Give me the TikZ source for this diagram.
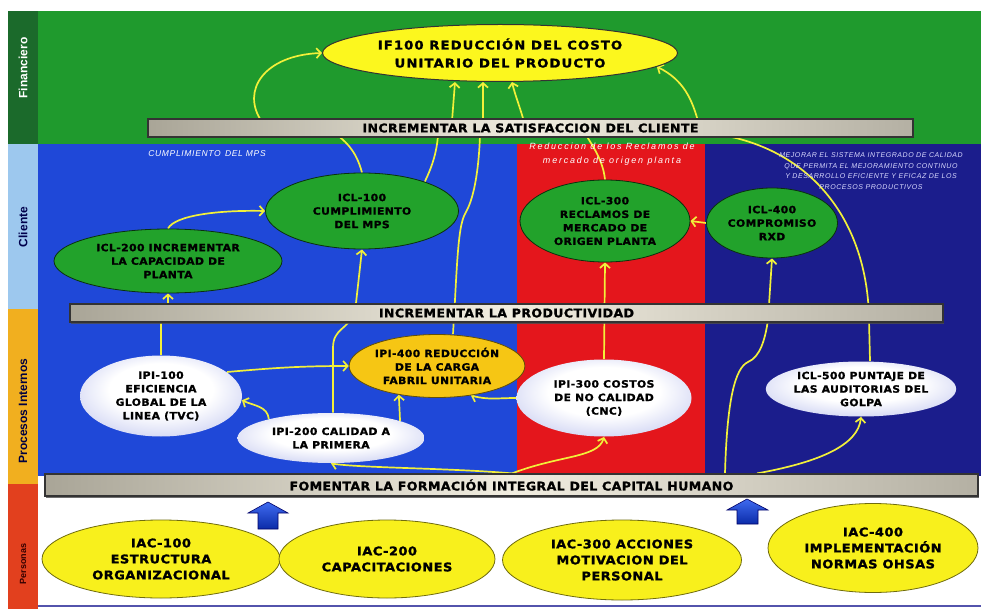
\documentclass[tikz,border=0pt]{standalone}
\usepackage{fontspec}
\setmainfont{DejaVu Sans}
\newfontfamily\bandfont{DejaVu Sans}[LetterSpace=3,FakeStretch=1.05,FakeBold=1.2]
\newfontfamily\bubblefont{DejaVu Sans}[LetterSpace=4,FakeStretch=1.08,FakeBold=1.4]
\newfontfamily\headfont{DejaVu Sans}[LetterSpace=9,FakeStretch=1.1,FakeBold=1.4]
\newfontfamily\sidefont{Liberation Sans}
\newfontfamily\notefont{Liberation Sans}[LetterSpace=20]
\newfontfamily\memofont{Liberation Sans}[LetterSpace=8]
\usetikzlibrary{shapes.geometric,arrows.meta,shadows}
\pgfdeclarelayer{bg}
\pgfdeclarelayer{links}
\pgfsetlayers{bg,links,main}

\definecolor{finG}{HTML}{1F9A2D}
\definecolor{finDark}{HTML}{1B6A2B}
\definecolor{cliBlue}{HTML}{1F48D8}
\definecolor{cliRed}{HTML}{E4161C}
\definecolor{cliNavy}{HTML}{1B1D8C}
\definecolor{labBlue}{HTML}{9DC8EE}
\definecolor{labOrange}{HTML}{F1AF1F}
\definecolor{labRed}{HTML}{E2401E}
\definecolor{arrowY}{HTML}{F2F03A}
\definecolor{ellGreen}{HTML}{22A22B}
\definecolor{ifYellow}{HTML}{FCF71E}
\definecolor{ellYellow}{HTML}{F8F01C}
\definecolor{ellGold}{HTML}{F6C614}
\definecolor{lav}{HTML}{BCC2EE}
\definecolor{lavdark}{HTML}{9BA3E2}
\definecolor{bandL}{HTML}{A9A597}
\definecolor{bandM}{HTML}{F1EDE0}
\definecolor{bandR}{HTML}{B4B0A3}
\definecolor{upTop}{HTML}{3F6BF0}
\definecolor{upBot}{HTML}{0B2BA8}

\pgfdeclareradialshading{softball}{\pgfpoint{0bp}{6bp}}{color(0bp)=(white); color(16bp)=(white); color(36bp)=(lav); color(50bp)=(lavdark)}

\begin{document}
\begin{tikzpicture}[x=1pt,y=-1pt,
  link/.style={draw=arrowY,line width=1.7pt},
  linkarr/.style={link,-{Straight Barb[length=4.5pt,width=10pt]}},
  bandbox/.style={draw=black!80,line width=1.2pt,left color=bandL,right color=bandR,middle color=bandM,
    inner sep=0pt,font=\bandfont\bfseries\fontsize{12}{12}\selectfont,
    drop shadow={shadow xshift=1.2pt,shadow yshift=-1.5pt,fill=black!70,opacity=.8}},
  bubble/.style={ellipse,inner sep=0pt,align=center,font=\bubblefont\bfseries\fontsize{10}{13.5}\selectfont,line width=.8pt},
  headb/.style={bubble,fill=ifYellow,draw=black!80,line width=1pt,font=\headfont\bfseries\fontsize{12}{18}\selectfont},
  greenb/.style={bubble,fill=ellGreen,draw=black!70!ellGreen},
  paleb/.style={bubble,shade,shading=softball},
  goldb/.style={bubble,fill=ellGold,draw=black!60!ellGold},
  baseb/.style={bubble,fill=ellYellow,draw=black!55!ellYellow,font=\bubblefont\bfseries\fontsize{12}{16}\selectfont},
  sidelabel/.style={rotate=90,font=\sidefont\bfseries\fontsize{12}{12}\selectfont},
  blockup/.style={draw=blue!40!black,line width=.6pt,top color=upTop,bottom color=upBot}
]
\useasboundingbox (0,0) rectangle (981,609);

% ---------- perspective bands ----------
\begin{pgfonlayer}{bg}
  \fill[white] (0,0) rectangle (981,609);
  \fill[finDark]   (8,11)   rectangle (38,144);
  \fill[labBlue]   (8,144)  rectangle (38,309);
  \fill[labOrange] (8,309)  rectangle (38,484);
  \fill[labRed]    (8,484)  rectangle (38,609);
  \fill[finG]    (38,11)  rectangle (981,144);
  \fill[cliBlue] (38,144) rectangle (517,476);
  \fill[cliRed]  (517,144) rectangle (705,476);
  \fill[cliNavy] (705,144) rectangle (981,476);
  \draw[blue!35!gray,line width=2pt] (38,606) -- (981,606);
\end{pgfonlayer}

\node[sidelabel,white] (lfin) at (23,68) {Financiero};
\node[sidelabel,text=black!70!blue] (lcli) at (23,227) {Cliente};
\node[sidelabel,text=black!75!blue] (lpro) at (23,411) {Procesos Internos};
\node[sidelabel,text=black!80!red,font=\sidefont\bfseries\fontsize{9}{9}\selectfont] (lper) at (23,564) {Personas};

% ---------- strategic themes ----------
\node[bandbox,minimum width=765pt,minimum height=18pt] (satisf) at (530.5,128) {INCREMENTAR LA SATISFACCION DEL CLIENTE};
\node[bandbox,minimum width=873pt,minimum height=18pt] (product) at (506.5,313) {INCREMENTAR LA PRODUCTIVIDAD};
\node[bandbox,minimum width=933pt,minimum height=22pt] (formac) at (511.5,485) {FOMENTAR LA FORMACIÓN INTEGRAL DEL CAPITAL HUMANO};

% ---------- objectives ----------
\node[headb,minimum width=355pt,minimum height=57pt] (if100) at (500,53) {IF100 REDUCCIÓN DEL COSTO\\UNITARIO DEL PRODUCTO};

\node[greenb,minimum width=193pt,minimum height=76pt] (icl100) at (362,211) {ICL-100\\CUMPLIMIENTO\\DEL MPS};
\node[greenb,minimum width=228pt,minimum height=64pt] (icl200) at (168,261) {ICL-200 INCREMENTAR\\LA CAPACIDAD DE\\PLANTA};
\node[greenb,minimum width=170pt,minimum height=82pt] (icl300) at (605,221) {ICL-300\\RECLAMOS DE\\MERCADO DE\\ORIGEN PLANTA};
\node[greenb,minimum width=131pt,minimum height=70pt] (icl400) at (772,223) {ICL-400\\COMPROMISO\\RXD};

\node[paleb,minimum width=162pt,minimum height=81pt] (ipi100) at (161,396) {IPI-100\\EFICIENCIA\\GLOBAL DE LA\\LINEA (TVC)};
\node[paleb,minimum width=187pt,minimum height=50pt] (ipi200) at (331,438) {IPI-200 CALIDAD A\\LA PRIMERA};
\node[goldb,minimum width=171pt,minimum height=63pt] (ipi400) at (437,366) {IPI-400 REDUCCIÓN\\DE LA CARGA\\FABRIL UNITARIA};
\node[paleb,minimum width=175pt,minimum height=77pt] (ipi300) at (604,398) {IPI-300 COSTOS\\DE NO CALIDAD\\(CNC)};
\node[paleb,minimum width=186pt,minimum height=55pt] (icl500) at (861,389) {ICL-500 PUNTAJE DE\\LAS AUDITORIAS DEL\\GOLPA};

\node[baseb,minimum width=238pt,minimum height=78pt] (iac100) at (161,559) {IAC-100\\ESTRUCTURA\\ORGANIZACIONAL};
\node[baseb,minimum width=216pt,minimum height=78pt] (iac200) at (387,559) {IAC-200\\CAPACITACIONES};
\node[baseb,minimum width=239pt,minimum height=80pt] (iac300) at (622,560) {IAC-300 ACCIONES\\MOTIVACION DEL\\PERSONAL};
\node[baseb,minimum width=210pt,minimum height=89pt] (iac400) at (873,548) {IAC-400\\IMPLEMENTACIÓN\\NORMAS OHSAS};

% ---------- notes on the perspectives ----------
\node[white,font=\memofont\itshape\fontsize{8.5}{8.5}\selectfont] (nmps) at (207,154) {CUMPLIMIENTO\enspace DEL MPS};
\node[white,align=center,font=\notefont\itshape\fontsize{9}{14}\selectfont] (nrec) at (612,154) {Reduccion de los Reclamos de\\mercado de origen planta};
\node[white!85!blue,align=center,font=\memofont\itshape\fontsize{7}{10.7}\selectfont] (nsis) at (871,171)
  {MEJORAR EL SISTEMA INTEGRADO DE CALIDAD\\QUE PERMITA EL MEJORAMIENTO CONTINUO\\Y DESARROLLO EFICIENTE Y EFICAZ DE LOS\\PROCESOS PRODUCTIVOS};

% ---------- block arrows from the learning perspective ----------
\path[blockup] (258,529) -- (258,513) -- (248,513) -- (268,502) -- (288,513) -- (278,513) -- (278,529) -- cycle;
\path[blockup] (737,524) -- (737,510) -- (727,510) -- (747,499) -- (768,510) -- (758,510) -- (758,524) -- cycle;

% ---------- cause-effect links ----------
\begin{pgfonlayer}{links}
  % into the financial objective
  \draw[linkarr] (icl100.north) .. controls (356,150) and (345,140) .. (330,130) -- (262,122)
        .. controls (240,90) and (265,55) .. (if100.west);
  \draw[linkarr] (icl100.25) .. controls (433,165) and (437,150) .. (438,135) -- (452,121) -- (if100.south -| 455,0);
  \draw[linkarr] (ipi400.north -| 453,0) -- (455,300) .. controls (458,240) and (460,222) .. (466,212)
        .. controls (475,196) and (479,165) .. (480,135) -- (483,121) -- (if100.south -| 483,0);
  \draw[linkarr] (icl300.north) .. controls (603,160) and (592,145) .. (586,135) -- (524,122)
        .. controls (521,110) and (515,95) .. (if100.south -| 512,0);
  \draw[linkarr] (icl500.north -| 870,0) -- (869,320) .. controls (868,230) and (820,155) .. (727,136) -- (698,121)
        .. controls (692,100) and (684,80) .. (if100.-5);
  % customer perspective
  \draw[linkarr] (icl200.north) .. controls (175,215) and (220,210) .. (icl100.west);
  \draw[linkarr] (icl400.west) -- (icl300.east);
  \draw[linkarr] (ipi300.north) -- (icl300.south);
  \draw[linkarr] (ipi100.north) -- (161,318) -- (168,310) -- (icl200.south);
  \draw[linkarr] (ipi200.north -| 333,0) -- (333,348) .. controls (333,328) and (348,330) .. (355,312) -- (icl100.south);
  \draw[linkarr] (formac.north -| 725,0) .. controls (727,400) and (735,368) .. (748,362)
        .. controls (760,357) and (765,340) .. (768,320) -- (icl400.south);
  % internal processes
  \draw[linkarr] (ipi100.20) to[out=5,in=180] (ipi400.west);
  \draw[linkarr] (ipi200.163) to[out=95,in=-25] (ipi100.-3);
  \draw[linkarr] (ipi200.14) -- (ipi400.-143);
  \draw[linkarr] (ipi300.west) to[out=180,in=-15] (ipi400.-41);
  % from human capital
  \draw[linkarr] (formac.north -| 512,0) .. controls (560,455) and (598,458) .. (ipi300.south);
  \draw[linkarr] (formac.north -| 512,0) .. controls (450,468) and (360,468) .. (ipi200.south);
  \draw[linkarr] (formac.north -| 757,0) .. controls (820,462) and (858,445) .. (icl500.south);
\end{pgfonlayer}
\end{tikzpicture}
\end{document}
